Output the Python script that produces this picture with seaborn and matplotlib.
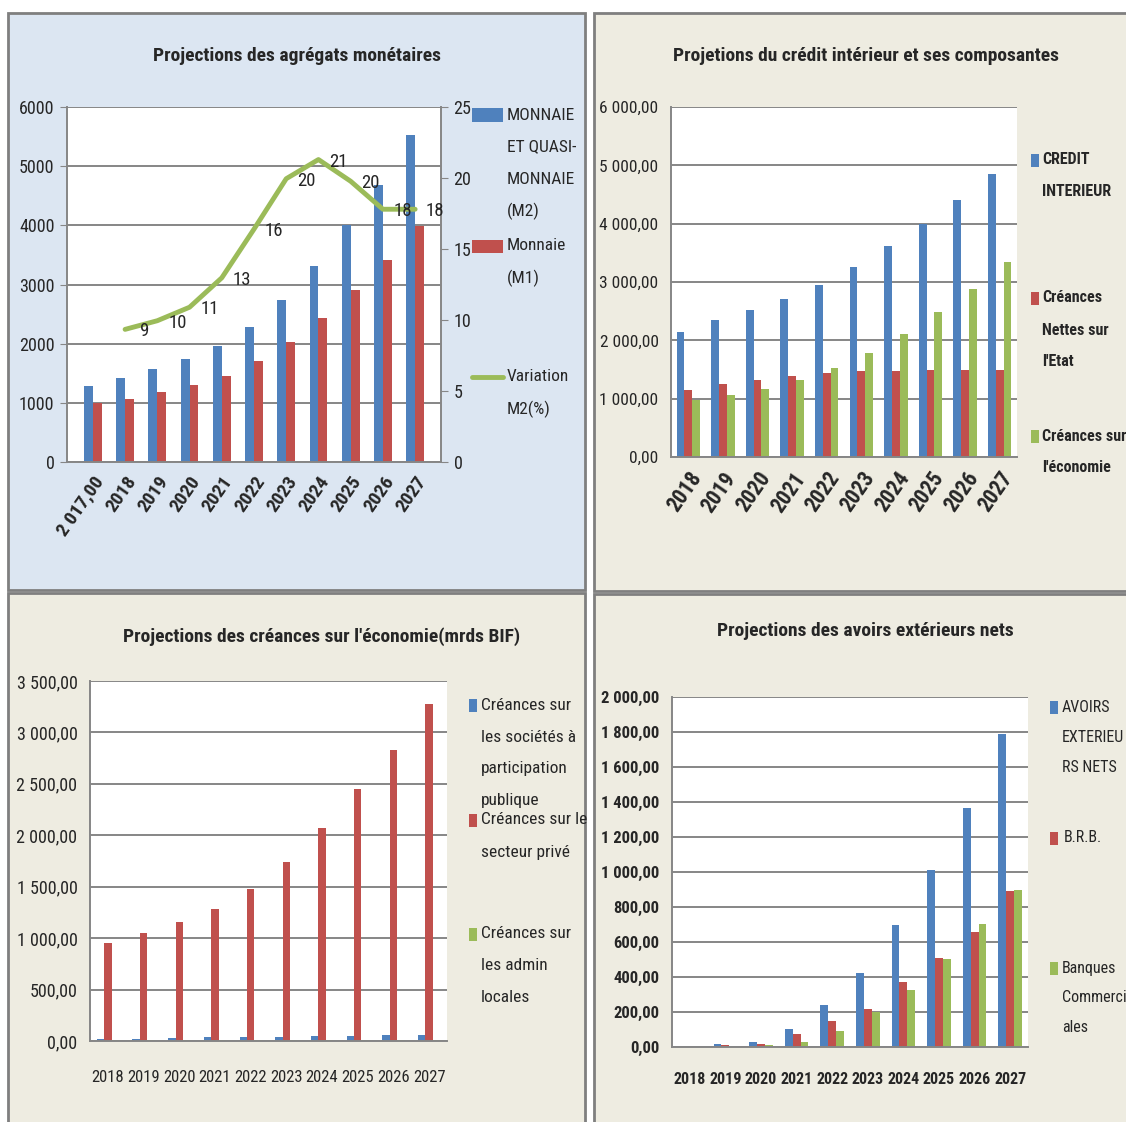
import pandas as pd
import numpy as np
import matplotlib
matplotlib.use('Agg')
import matplotlib.pyplot as plt
import seaborn as sns
from matplotlib import font_manager as fm
from matplotlib.patches import Rectangle
from matplotlib.lines import Line2D
from matplotlib.ticker import FuncFormatter, MultipleLocator

sns.set_style("white")

# look for a narrow face (the original uses a condensed Calibri look)
narrow = None
for pref in ['Liberation Sans Narrow', 'Roboto Condensed', 'Open Sans Condensed',
             'Noto Sans Condensed', 'DejaVu Sans Condensed']:
    if any(f.name == pref for f in fm.fontManager.ttflist):
        narrow = (pref, 'normal')
        break
if narrow is None:
    for f in fm.fontManager.ttflist:
        if f.stretch in ('condensed', 'semi-condensed', 'extra-condensed', 'ultra-condensed'):
            narrow = (f.name, f.stretch)
            break
if narrow:
    plt.rcParams['font.family'] = [narrow[0], 'DejaVu Sans']
    plt.rcParams['font.stretch'] = narrow[1]
    K = 1.0
else:
    plt.rcParams['font.family'] = ['DejaVu Sans']
    K = 0.78

BLUE, RED, GREEN = '#4F81BD', '#C0504D', '#9BBB59'
GRID = '#868686'

# --- data -----------------------------------------------------------------
years_m = ['2 017,00', '2018', '2019', '2020', '2021', '2022', '2023', '2024', '2025', '2026', '2027']
m2 = [1290, 1412, 1565, 1740, 1955, 2282, 2740, 3313, 4000, 4690, 5530]
m1 = [990, 1073, 1175, 1305, 1458, 1701, 2023, 2435, 2915, 3410, 3995]
var_m2 = [9.34, 9.95, 10.9, 12.97, 16.4, 19.95, 21.3, 19.77, 17.8, 17.8]
var_labels = ['9', '10', '11', '13', '16', '20', '21', '20', '18', '18']

years = ['2018', '2019', '2020', '2021', '2022', '2023', '2024', '2025', '2026', '2027']
credit_int = [2143, 2343, 2514, 2714, 2954, 3257, 3611, 4000, 4400, 4857]
cr_etat = [1154, 1257, 1326, 1394, 1434, 1480, 1480, 1497, 1497, 1497]
cr_eco = [983, 1063, 1171, 1326, 1526, 1789, 2114, 2491, 2886, 3343]

soc_pub = [23, 23, 25, 36, 36, 36, 49, 49, 62, 62]
sect_prive = [955, 1046, 1156, 1279, 1479, 1742, 2075, 2451, 2833, 3280]
admin_loc = [8, 8, 8, 8, 8, 8, 8, 8, 8, 8]

avoirs = [1, 15, 29, 105, 242, 425, 699, 1013, 1368, 1790]
brb = [0, 10, 17, 72, 147, 219, 371, 509, 657, 890]
banques = [0, 2, 10, 30, 91, 200, 324, 501, 705, 899]

W, H = 1126, 1122
fig = plt.figure(figsize=(W / 100, H / 100), dpi=100)


def frac(x0, y0, x1, y1):
    return [x0 / W, 1 - y1 / H, (x1 - x0) / W, (y1 - y0) / H]


def fx(x):
    return x / W


def fy(y):
    return 1 - y / H


# panel backgrounds
for (x0, y0, x1, y1), col in [((8, 13, 585, 590), '#DCE6F2'),
                              ((594, 13, 1130, 591), '#EEECE1'),
                              ((8, 593, 585, 1126), '#EEECE1'),
                              ((594, 594, 1130, 1126), '#EEECE1')]:
    fig.add_artist(Rectangle((fx(x0), fy(y1)), (x1 - x0) / W, (y1 - y0) / H,
                             transform=fig.transFigure, facecolor=col,
                             edgecolor='#7F7F7F', lw=2, zorder=0))


def comma_fmt(v, pos):
    return f"{v:,.2f}".replace(',', ' ').replace('.', ',')


def long_df(cats, series):
    rows = []
    for name, vals in series:
        for c, v in zip(cats, vals):
            rows.append({'year': c, 'series': name, 'value': v})
    return pd.DataFrame(rows)


def style_axes(ax, ymax, step, fmt, fs, bold=False):
    ax.set_facecolor('white')
    ax.set_ylim(0, ymax)
    ax.yaxis.set_major_locator(MultipleLocator(step))
    ax.yaxis.set_major_formatter(FuncFormatter(fmt))
    ax.yaxis.grid(True, color=GRID, lw=1.4)
    ax.set_axisbelow(True)
    for s in ['top', 'right']:
        ax.spines[s].set_visible(False)
    for s in ['left', 'bottom']:
        ax.spines[s].set_color(GRID)
        ax.spines[s].set_linewidth(1.4)
    ax.tick_params(axis='y', length=5, color=GRID, labelsize=fs * K, pad=4)
    ax.tick_params(axis='x', length=0, labelsize=fs * K)
    for t in ax.get_yticklabels():
        t.set_fontweight('bold' if bold else 'normal')
    ax.set_xlabel('')
    ax.set_ylabel('')


def legend_entry(kind, color, x_sw, y, lines, x_txt, fs, weight='normal', sw=(8, 13), gap=32):
    if kind == 'bar':
        w, h = sw
        fig.add_artist(Rectangle((fx(x_sw), fy(y + h / 2)), w / W, h / H,
                                 transform=fig.transFigure, facecolor=color, lw=0))
    else:
        fig.add_artist(Line2D([fx(x_sw), fx(x_sw + sw[0])], [fy(y), fy(y)],
                              transform=fig.transFigure, color=color, lw=3.5))
    for i, line in enumerate(lines):
        fig.text(fx(x_txt), fy(y + i * gap), line, fontsize=fs * K, weight=weight,
                 ha='left', va='center')


TITLE_FS = 14

# --- Top-left : agrégats monétaires ------------------------------------------
ax1 = fig.add_axes(frac(67, 107, 441, 462))
df1 = long_df(years_m, [('M2', m2), ('M1', m1)])
sns.barplot(data=df1, x='year', y='value', hue='series', order=years_m,
            palette=[BLUE, RED], saturation=1, width=0.55, legend=False, ax=ax1, lw=0)
style_axes(ax1, 6000, 1000, lambda v, p: f"{v:.0f}", 13)
ax1.spines['right'].set_visible(True)
ax1.spines['right'].set_color(GRID)
ax1.spines['right'].set_linewidth(1.4)
ax1.set_xticks(range(len(years_m)))
ax1.set_xticklabels(years_m, rotation=55, ha='right', va='top', rotation_mode='anchor',
                    fontsize=14 * K, fontweight='bold')
ax1.tick_params(axis='x', pad=8)

ax1b = ax1.twinx()
sns.lineplot(x=np.arange(1, len(years_m)), y=var_m2, ax=ax1b, color=GREEN, lw=3.5)
ax1b.set_xlim(ax1.get_xlim())
ax1b.set_ylim(0, 25)
ax1b.yaxis.set_major_locator(MultipleLocator(5))
ax1b.tick_params(axis='y', length=5, color=GRID, labelsize=13 * K, pad=4)
for s in ax1b.spines.values():
    s.set_visible(False)
ax1b.set_ylabel('')
for i, (v, lab) in enumerate(zip(var_m2, var_labels)):
    ax1b.annotate(lab, (i + 1, v), xytext=(20, -2), textcoords='offset pixels',
                  ha='center', va='center', fontsize=13.5 * K)
fig.text(fx(297), fy(56), 'Projections des agrégats monétaires', ha='center', va='center',
         fontsize=TITLE_FS * K, weight='bold')
legend_entry('bar', BLUE, 472, 115, ['MONNAIE', 'ET QUASI-', 'MONNAIE', '(M2)'], 507, 12.5, sw=(31, 13))
legend_entry('bar', RED, 472, 246, ['Monnaie', '(M1)'], 507, 12.5, sw=(31, 13))
legend_entry('line', GREEN, 472, 377, ['Variation', 'M2(%)'], 507, 12.5, sw=(31, 13))

# --- Top-right : crédit intérieur -------------------------------------------
ax2 = fig.add_axes(frac(671, 107, 1017, 457))
df2 = long_df(years, [('CREDIT', credit_int), ('Etat', cr_etat), ('Eco', cr_eco)])
sns.barplot(data=df2, x='year', y='value', hue='series', order=years,
            palette=[BLUE, RED, GREEN], saturation=1, width=0.68, legend=False, ax=ax2, lw=0)
style_axes(ax2, 6000, 1000, comma_fmt, 12.5)
ax2.set_xticks(range(len(years)))
ax2.set_xticklabels(years, rotation=55, ha='right', va='top', rotation_mode='anchor',
                    fontsize=15.5 * K, fontweight='bold')
ax2.tick_params(axis='x', pad=8)
fig.text(fx(866), fy(56), 'Projetions du crédit intérieur et ses composantes', ha='center',
         va='center', fontsize=TITLE_FS * K, weight='bold')
legend_entry('bar', BLUE, 1031, 160, ['CREDIT', 'INTERIEUR'], 1042, 11.5, weight='bold')
legend_entry('bar', RED, 1031, 298, ['Créances', 'Nettes sur', "l'Etat"], 1042, 11.5, weight='bold')
legend_entry('bar', GREEN, 1031, 436, ['Créances sur', "l'économie"], 1042, 11.5, weight='bold')

# --- Bottom-left : créances sur l'économie ---------------------------------
ax3 = fig.add_axes(frac(90, 681, 447, 1041))
df3 = long_df(years, [('pub', soc_pub), ('prive', sect_prive), ('admin', admin_loc)])
sns.barplot(data=df3, x='year', y='value', hue='series', order=years,
            palette=[BLUE, RED, GREEN], saturation=1, width=0.62, legend=False, ax=ax3, lw=0)
style_axes(ax3, 3500, 500, comma_fmt, 13)
ax3.tick_params(axis='x', pad=21, labelsize=12 * K)
fig.text(fx(322), fy(637), "Projections des créances sur l'économie(mrds BIF)", ha='center',
         va='center', fontsize=TITLE_FS * K, weight='bold')
legend_entry('bar', BLUE, 469, 705, ['Créances sur', 'les sociétés à', 'participation', 'publique'], 481, 12.5)
legend_entry('bar', RED, 469, 820, ['Créances sur le', 'secteur privé'], 481, 12.5)
legend_entry('bar', GREEN, 469, 934, ['Créances sur', 'les admin', 'locales'], 481, 12.5)

# --- Bottom-right : avoirs extérieurs nets ---------------------------------
ax4 = fig.add_axes(frac(672, 697, 1028, 1047))
df4 = long_df(years, [('avoirs', avoirs), ('brb', brb), ('banques', banques)])
sns.barplot(data=df4, x='year', y='value', hue='series', order=years,
            palette=[BLUE, RED, GREEN], saturation=1, width=0.66, legend=False, ax=ax4, lw=0)
style_axes(ax4, 2000, 200, comma_fmt, 12, bold=True)
ax4.tick_params(axis='x', pad=18, labelsize=11.5 * K)
for t in ax4.get_xticklabels():
    t.set_fontweight('bold')
fig.text(fx(865), fy(631), 'Projections des avoirs extérieurs nets', ha='center',
         va='center', fontsize=TITLE_FS * K, weight='bold')
legend_entry('bar', BLUE, 1050, 707, ['AVOIRS', 'EXTERIEU', 'RS NETS'], 1062, 11.5, gap=30)
legend_entry('bar', RED, 1050, 838, ['B.R.B.'], 1064, 11.5)
legend_entry('bar', GREEN, 1050, 968, ['Banques', 'Commerci', 'ales'], 1062, 11.5, gap=30)

fig.savefig('out.png', dpi=100)
